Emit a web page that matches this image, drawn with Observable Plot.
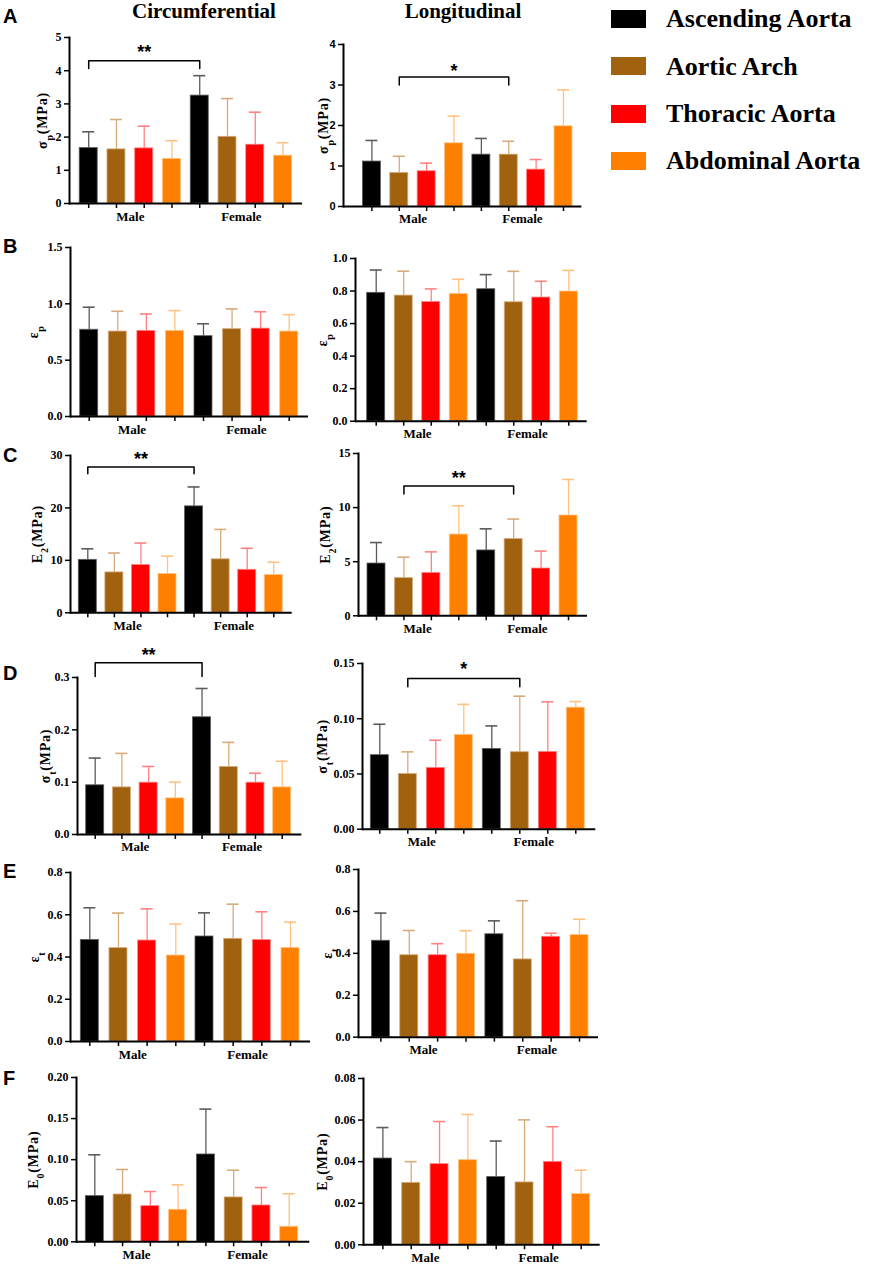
<!DOCTYPE html>
<html><head><meta charset="utf-8">
<script src="https://cdn.jsdelivr.net/npm/d3@7"></script>
<script src="https://cdn.jsdelivr.net/npm/@observablehq/plot@0.6"></script>
<style>
body{margin:0;background:#fff;}
#fig{position:relative;width:872px;height:1267px;overflow:hidden;background:#fff;font-family:"Liberation Serif","Times New Roman",serif;}
#fig svg text{font-family:"Liberation Serif","Times New Roman",serif !important;font-weight:bold !important;}
#fig svg text.sans{font-family:"Liberation Sans",Arial,sans-serif !important;}
.abs{position:absolute;white-space:nowrap;line-height:1;}
.letter{font-family:"Liberation Sans",Arial,sans-serif;font-weight:bold;font-size:20px;}
.coltitle{font-weight:bold;font-size:21px;transform:translateX(-50%);}
.legtext{font-weight:bold;font-size:26px;}
.swatch{position:absolute;width:35px;height:18px;}
</style></head><body><div id="fig"></div>
<script>
const sexes = ["Male", "Female"];
const regions = ["Ascending Aorta", "Aortic Arch", "Thoracic Aorta", "Abdominal Aorta"];

// order: Male (Asc, Arch, Thor, Abd), Female (Asc, Arch, Thor, Abd)
const sigmaPCircMean = [1.67, 1.63, 1.66, 1.34, 3.25, 2.01, 1.77, 1.44];
const sigmaPCircSD   = [0.49, 0.90, 0.67, 0.55, 0.60, 1.15, 0.98, 0.39];
const sigmaPLongMean = [1.11, 0.83, 0.87, 1.56, 1.28, 1.28, 0.91, 1.98];
const sigmaPLongSD   = [0.52, 0.41, 0.20, 0.67, 0.40, 0.33, 0.25, 0.90];
const epsPCircMean = [0.77, 0.754, 0.76, 0.76, 0.713, 0.775, 0.78, 0.754];
const epsPCircSD   = [0.20, 0.18, 0.15, 0.18, 0.11, 0.18, 0.15, 0.15];
const epsPLongMean = [0.789, 0.772, 0.733, 0.782, 0.811, 0.731, 0.76, 0.797];
const epsPLongSD   = [0.14, 0.15, 0.08, 0.09, 0.09, 0.19, 0.10, 0.13];
const e2CircMean = [10.1, 7.7, 9.1, 7.4, 20.3, 10.2, 8.2, 7.2];
const e2CircSD   = [2.1, 3.7, 4.2, 3.4, 3.7, 5.7, 4.1, 2.45];
const e2LongMean = [4.83, 3.48, 3.96, 7.51, 6.04, 7.09, 4.37, 9.27];
const e2LongSD   = [1.94, 1.94, 1.95, 2.66, 2.0, 1.85, 1.61, 3.33];
const sigmaTCircMean = [0.094, 0.090, 0.099, 0.069, 0.224, 0.129, 0.099, 0.090];
const sigmaTCircSD   = [0.052, 0.065, 0.031, 0.031, 0.055, 0.047, 0.018, 0.050];
const sigmaTLongMean = [0.067, 0.050, 0.0555, 0.0854, 0.0727, 0.0697, 0.070, 0.110];
const sigmaTLongSD   = [0.028, 0.020, 0.025, 0.0276, 0.0208, 0.0507, 0.0453, 0.0055];
const epsTCircMean = [0.481, 0.442, 0.478, 0.407, 0.497, 0.486, 0.48, 0.443];
const epsTCircSD   = [0.152, 0.166, 0.150, 0.149, 0.112, 0.164, 0.134, 0.122];
const epsTLongMean = [0.46, 0.391, 0.391, 0.398, 0.491, 0.371, 0.479, 0.487];
const epsTLongSD   = [0.132, 0.118, 0.055, 0.110, 0.064, 0.280, 0.017, 0.076];
const e0CircMean = [0.0556, 0.0576, 0.0434, 0.039, 0.1063, 0.054, 0.0442, 0.0183];
const e0CircSD   = [0.0503, 0.0304, 0.0178, 0.0304, 0.0552, 0.0332, 0.0218, 0.0401];
const e0LongMean = [0.0415, 0.0298, 0.0388, 0.0407, 0.0326, 0.030, 0.0399, 0.0244];
const e0LongSD   = [0.0149, 0.0102, 0.0205, 0.022, 0.0173, 0.0301, 0.0169, 0.0115];

const ticksSigmaPCirc = [0, 1, 2, 3, 4, 5];
const ticksSigmaPLong = [0, 1, 2, 3, 4];
const ticksEpsPCirc = [0, 0.5, 1.0, 1.5];
const ticksEpsPLong = [0, 0.2, 0.4, 0.6, 0.8, 1.0];
const ticksE2Circ = [0, 10, 20, 30];
const ticksE2Long = [0, 5, 10, 15];
const ticksSigmaTCirc = [0, 0.1, 0.2, 0.3];
const ticksSigmaTLong = [0, 0.05, 0.10, 0.15];
const ticksEpsT = [0, 0.2, 0.4, 0.6, 0.8];
const ticksE0Circ = [0, 0.05, 0.10, 0.15, 0.20];
const ticksE0Long = [0, 0.02, 0.04, 0.06, 0.08];

// significance brackets (bar indices, heights in data units)
const sigSigmaPCirc = {from: 0, to: 4, text: "**", top: 4.3, leg: 4.07, textY: 4.67};
const sigSigmaPLong = {from: 1, to: 5, text: "*", top: 3.2, leg: 3.0, textY: 3.44};
const sigE2Circ = {from: 0, to: 4, text: "**", top: 27.8, leg: 26.5, textY: 30.0};
const sigE2Long = {from: 1, to: 5, text: "**", top: 12.0, leg: 11.25, textY: 13.1};
const sigSigmaTCirc = {from: 0, to: 4, text: "**", top: 0.328, leg: 0.302, textY: 0.35};
const sigSigmaTLong = {from: 1, to: 5, text: "*", top: 0.1365, leg: 0.129, textY: 0.148};

const fillColors = ["#000000", "#A0620F", "#FF0000", "#FF8000"];
const errColors = ["#5c5c5c", "#D6AC7C", "#FF8282", "#FFC283"];
const SERIF = "'Liberation Serif','Times New Roman',serif";
const SANS = "'Liberation Sans',Arial,sans-serif";

// layout: [axisLeft, axisRight, topTickY, zeroY] and first/last bar centres (page px)
const panels = [
  {mean: sigmaPCircMean, sd: sigmaPCircSD, box: [69, 302, 37, 203], centers: [88.2, 282.5], ticks: ticksSigmaPCirc, fmt: "d", lab: "σ<tspan baseline-shift='sub' font-size='10'>p</tspan>(MPa)", labOff: 32, tickFont: SERIF, tickFs: 12, sig: sigSigmaPCirc},
  {mean: sigmaPLongMean, sd: sigmaPLongSD, box: [343.3, 581.7, 44, 206], centers: [371.7, 563.3], ticks: ticksSigmaPLong, fmt: "d", lab: "σ<tspan baseline-shift='sub' font-size='10'>p</tspan>(MPa)", labOff: 25, tickFont: SANS, tickFs: 11, sig: sigSigmaPLong},
  {mean: epsPCircMean, sd: epsPCircSD, box: [70, 308, 247, 416], centers: [88.7, 288.7], ticks: ticksEpsPCirc, fmt: ".1f", lab: "ε<tspan baseline-shift='sub' font-size='10'>p</tspan>", labOff: 42, tickFont: SERIF, tickFs: 12},
  {mean: epsPLongMean, sd: epsPLongSD, box: [355, 586.7, 258.3, 421], centers: [375.7, 568.3], ticks: ticksEpsPLong, fmt: ".1f", lab: "ε<tspan baseline-shift='sub' font-size='10'>p</tspan>", labOff: 38, tickFont: SERIF, tickFs: 12},
  {mean: e2CircMean, sd: e2CircSD, box: [70, 291.7, 455, 612.3], centers: [87.3, 273.3], ticks: ticksE2Circ, fmt: "d", lab: "E<tspan baseline-shift='sub' font-size='10'>2</tspan>(MPa)", labOff: 38, tickFont: SERIF, tickFs: 12, sig: sigE2Circ},
  {mean: e2LongMean, sd: e2LongSD, box: [357.7, 586.7, 452.7, 615], centers: [375.7, 567.7], ticks: ticksE2Long, fmt: "d", lab: "E<tspan baseline-shift='sub' font-size='10'>2</tspan>(MPa)", labOff: 38, tickFont: SERIF, tickFs: 12, sig: sigE2Long},
  {mean: sigmaTCircMean, sd: sigmaTCircSD, box: [77.3, 301.7, 676.7, 833.7], centers: [95, 282], ticks: ticksSigmaTCirc, fmt: ".1f", lab: "σ<tspan baseline-shift='sub' font-size='10'>t</tspan>(MPa)", labOff: 37, tickFont: SERIF, tickFs: 12, sig: sigSigmaTCirc},
  {mean: sigmaTLongMean, sd: sigmaTLongSD, box: [361.7, 595, 663.3, 829], centers: [379, 575], ticks: ticksSigmaTLong, fmt: ".2f", lab: "σ<tspan baseline-shift='sub' font-size='10'>t</tspan>(MPa)", labOff: 45, tickFont: SERIF, tickFs: 12, sig: sigSigmaTLong},
  {mean: epsTCircMean, sd: epsTCircSD, box: [70, 310, 871.7, 1040.7], centers: [89.3, 290], ticks: ticksEpsT, fmt: ".1f", lab: "ε<tspan baseline-shift='sub' font-size='10'>t</tspan>", labOff: 41, tickFont: SERIF, tickFs: 12},
  {mean: epsTLongMean, sd: epsTLongSD, box: [358.3, 598.3, 869, 1036.7], centers: [380.7, 579.3], ticks: ticksEpsT, fmt: ".1f", lab: "ε<tspan baseline-shift='sub' font-size='10'>t</tspan>", labOff: 36, tickFont: SERIF, tickFs: 12},
  {mean: e0CircMean, sd: e0CircSD, box: [76, 309.3, 1076.7, 1241], centers: [94.3, 288.7], ticks: ticksE0Circ, fmt: ".2f", lab: "E<tspan baseline-shift='sub' font-size='10'>0</tspan>(MPa)", labOff: 48, tickFont: SERIF, tickFs: 12},
  {mean: e0LongMean, sd: e0LongSD, box: [363.3, 600, 1077.7, 1244], centers: [382.7, 581], ticks: ticksE0Long, fmt: ".2f", lab: "E<tspan baseline-shift='sub' font-size='10'>0</tspan>(MPa)", labOff: 46, tickFont: SERIF, tickFs: 12}
];

const fig = document.getElementById("fig");

function panel(p) {
  const rows = sexes.flatMap((s, si) => regions.map((r, ri) => ({
    key: s + " " + r, sex: s, region: r, ri, mean: p.mean[si * 4 + ri], sd: p.sd[si * 4 + ri]
  })));
  const keys = rows.map(d => d.key);
  const [L, R, T, B] = p.box;
  const [c1, c8] = p.centers;
  const bw = 18;
  const step = (c8 - c1) / 7, range = R - L;
  const pi = 1 - bw / step;
  const po = Math.max(0.001, (range / step - 8 + pi) / 2);
  const align = Math.min(1, Math.max(0, (c1 - L - bw / 2) / (2 * po * step)));
  const mL = 60, mR = 12, mT = 45, mB = 32;
  const marks = [
    Plot.ruleX(rows, {x: "key", y1: "mean", y2: d => d.mean + d.sd, stroke: d => errColors[d.ri], strokeWidth: 1.3}),
    Plot.tickY(rows, {x: "key", y: d => d.mean + d.sd, stroke: d => errColors[d.ri], strokeWidth: 1.6, insetLeft: 3, insetRight: 3}),
    Plot.barY(rows, {x: "key", y: "mean", fill: d => fillColors[d.ri], stroke: d => errColors[d.ri], strokeWidth: 0.8}),
    Plot.ruleY([0], {strokeWidth: 2}),
    Plot.frame({anchor: "left", strokeWidth: 2}),
    Plot.axisY({ticks: p.ticks, tickFormat: d3.format(p.fmt), tickSize: 5, tickPadding: 3, strokeWidth: 1.5,
      fontFamily: p.tickFont, fontSize: p.tickFs, fontWeight: "bold",
      label: "y", labelAnchor: "center", labelOffset: p.labOff}),
    Plot.axisX({tickSize: 5, tickFormat: () => "", label: null, strokeWidth: 1.5}),
    Plot.text([{key: keys[1], t: sexes[0]}, {key: keys[5], t: sexes[1]}],
      {x: "key", text: "t", frameAnchor: "bottom", dy: 17, dx: step / 2, fontSize: 13, fontWeight: "bold", fontFamily: SERIF})
  ];
  if (p.sig) {
    const g = p.sig;
    const br = [
      {x: keys[g.from], y: g.leg}, {x: keys[g.from], y: g.top},
      {x: keys[g.to], y: g.top}, {x: keys[g.to], y: g.leg}
    ];
    marks.push(Plot.line(br, {x: "x", y: "y", stroke: "black", strokeWidth: 1.5}));
    marks.push(Plot.text([{x: keys[(g.from + g.to) / 2], y: g.textY, t: g.text}],
      {x: "x", y: "y", text: "t", fontSize: 18, fontWeight: "bold", fontFamily: SANS, dy: 4}));
  }
  const svg = Plot.plot({
    width: mL + range + mR,
    height: mT + (B - T) + mB,
    marginLeft: mL, marginRight: mR, marginTop: mT, marginBottom: mB,
    style: {fontFamily: SERIF, fontWeight: "bold", fontSize: "12px", background: "transparent", overflow: "visible", maxWidth: "none", color: "black"},
    x: {type: "band", domain: keys, paddingInner: pi, paddingOuter: po, align, round: false},
    y: {domain: [0, p.ticks[p.ticks.length - 1]], nice: false},
    color: {type: "identity"},
    marks
  });
  svg.style.position = "absolute";
  svg.style.left = (L - mL) + "px";
  svg.style.top = (T - mT) + "px";
  // mark sans-serif texts (ticks of one panel, significance stars)
  svg.querySelectorAll("text").forEach(t => {
    const holder = t.parentElement.closest("[font-family]");
    const fam = (t.getAttribute("font-family") || (holder && holder !== svg ? holder.getAttribute("font-family") : "") || "");
    if (fam.includes("Sans")) t.classList.add("sans");
  });
  const lab = svg.querySelector('g[aria-label="y-axis label"] text');
  if (lab) {
    lab.innerHTML = p.lab;
    lab.classList.remove("sans");
    lab.style.fontSize = "14px";
    lab.style.letterSpacing = "0.8px";
  }
  fig.appendChild(svg);
}
panels.forEach(panel);

// column titles
const titles = [["Circumferential", 204], ["Longitudinal", 463]];
titles.forEach(([t, x]) => {
  const d = document.createElement("div");
  d.className = "abs coltitle"; d.textContent = t;
  d.style.left = x + "px"; d.style.top = "1px";
  fig.appendChild(d);
});
// row letters
const letters = [["A", 6], ["B", 236], ["C", 445], ["D", 663], ["E", 861], ["F", 1068]];
letters.forEach(([t, y]) => {
  const d = document.createElement("div");
  d.className = "abs letter"; d.textContent = t;
  d.style.left = "3px"; d.style.top = y + "px";
  fig.appendChild(d);
});
// legend
const legTops = [9.5, 57, 104.5, 151.7];
regions.forEach((r, i) => {
  const s = document.createElement("div");
  s.className = "swatch"; s.style.left = "611px"; s.style.top = legTops[i] + "px";
  s.style.background = fillColors[i];
  fig.appendChild(s);
  const t = document.createElement("div");
  t.className = "abs legtext"; t.textContent = r;
  t.style.left = "666px"; t.style.top = (legTops[i] - 3.5) + "px";
  fig.appendChild(t);
});
</script></body></html>
